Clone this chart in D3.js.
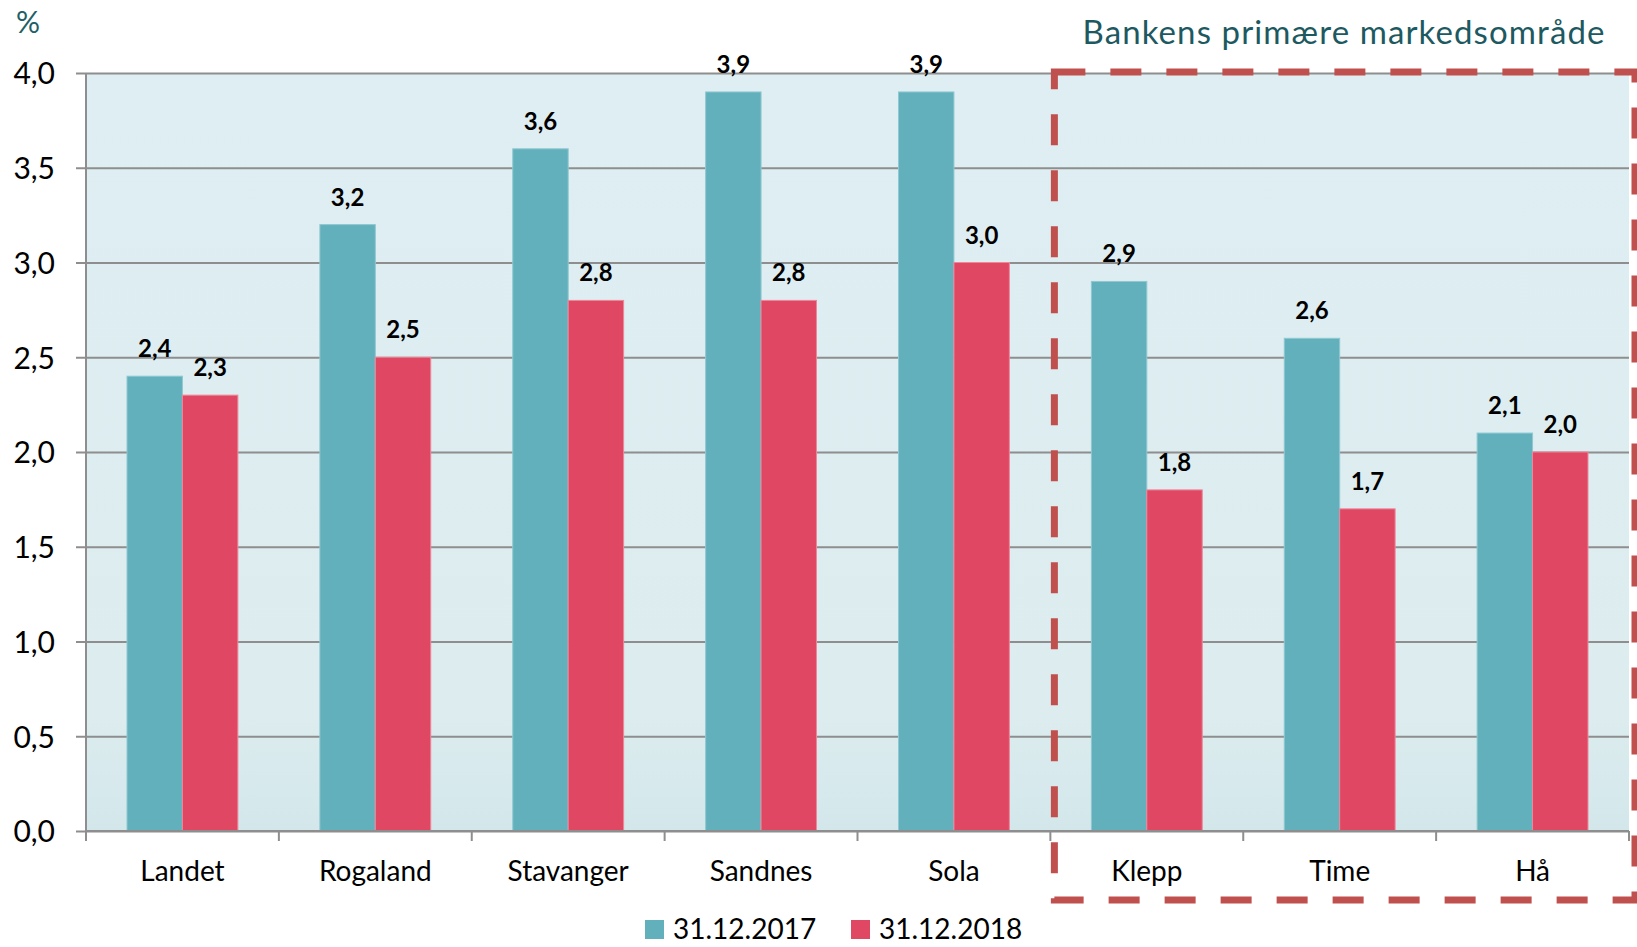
<!DOCTYPE html>
<html><head><meta charset="utf-8">
<script src="https://cdn.jsdelivr.net/npm/d3@7"></script>
<style>html,body{margin:0;padding:0;background:#fff;overflow:hidden}svg{display:block}text{font-family:Lato,"Open Sans",sans-serif}</style>
</head><body>
<svg id="c" width="1637" height="947"></svg>
<script>
const categories = ["Landet","Rogaland","Stavanger","Sandnes","Sola","Klepp","Time","Hå"];
const seriesNames = ["31.12.2017","31.12.2018"];
const values2017 = [2.4,3.2,3.6,3.9,3.9,2.9,2.6,2.1];
const values2018 = [2.3,2.5,2.8,2.8,3.0,1.8,1.7,2.0];
const yTicks = [0,0.5,1,1.5,2,2.5,3,3.5,4];
const highlightCats = ["Klepp","Time","Hå"];
const highlightTitle = "Bankens primære markedsområde";
const unitLabel = "%";

const colors = ["#63B0BD","#E04763"];
const svg = d3.select("#c");
const L = 86, R = 1629, T = 73, B = 831;
const x0 = d3.scaleBand().domain(categories).range([L, R]).padding(0);
const x1 = d3.scaleBand().domain(seriesNames).range([0, x0.bandwidth()]).paddingInner(0).paddingOuter(0.74);
const y = d3.scaleLinear().domain([0,4]).range([B, T]);
const fmt = v => d3.format(".1f")(v).replace(".", ",");

const defs = svg.append("defs");
const g = defs.append("linearGradient").attr("id","bg").attr("x1",0).attr("y1",0).attr("x2",0).attr("y2",1);
g.append("stop").attr("offset","0").attr("stop-color","#DFEEF2");
g.append("stop").attr("offset","0.85").attr("stop-color","#DCECEF");
g.append("stop").attr("offset","1").attr("stop-color","#D3E7EA");
svg.append("rect").attr("x",L).attr("y",T).attr("width",R-L).attr("height",B-T).attr("fill","url(#bg)");

// gridlines + y axis
const yAxis = d3.axisLeft(y).tickValues(yTicks).tickSize(10).tickFormat(fmt).tickPadding(21);
const ya = svg.append("g").attr("transform",`translate(${L},0)`).call(yAxis);
ya.select(".domain").attr("stroke","#8E8E8E").attr("stroke-width",2).attr("d",`M0,${T}V${B}`);
ya.selectAll(".tick line").attr("stroke","#8E8E8E").attr("stroke-width",2).attr("x1",-10).attr("x2",R-L);
ya.selectAll(".tick text").attr("font-size",30).attr("fill","#000").attr("font-family","Lato").attr("dy","0.36em");

const data = categories.map((c,i)=>({cat:c, vals:[values2017[i], values2018[i]]}));
const grp = svg.append("g").selectAll("g").data(data).join("g").attr("transform",d=>`translate(${x0(d.cat)},0)`);
grp.selectAll("rect").data(d=>d.vals.map((v,j)=>({s:seriesNames[j],v,j}))).join("rect")
  .attr("x",d=>x1(d.s)).attr("width",x1.bandwidth()).attr("y",d=>y(d.v)).attr("height",d=>B-y(d.v))
  .attr("fill",d=>colors[d.j]).attr("stroke",d=>d.j?"#EE8799":"#8FC8D1").attr("stroke-width",1);
grp.selectAll("text").data(d=>d.vals.map((v,j)=>({s:seriesNames[j],v,j}))).join("text")
  .attr("x",d=>x1(d.s)+x1.bandwidth()/2).attr("y",d=>y(d.v)-19).attr("text-anchor","middle")
  .attr("font-size",24).attr("font-weight","bold").attr("fill","#000").text(d=>fmt(d.v));

// x axis
const xAxis = d3.axisBottom(x0).tickSize(0).tickPadding(30);
const xa = svg.append("g").attr("transform",`translate(0,${B})`).call(xAxis);
xa.select(".domain").attr("stroke","#8E8E8E").attr("stroke-width",2).attr("d",`M${L},0H${R}`);
xa.selectAll(".tick text").attr("font-size",28).attr("fill","#000").attr("dy","0.71em");
const bounds = categories.map(c=>x0(c)).concat([R]);
xa.selectAll("line.sep").data(bounds).join("line").attr("class","sep")
  .attr("x1",d=>d).attr("x2",d=>d).attr("y1",0).attr("y2",10).attr("stroke","#8E8E8E").attr("stroke-width",2);

// unit
svg.append("text").attr("x",16).attr("y",33).attr("font-size",30).attr("fill","#1F5F66").text(unitLabel);

// highlight box
const hx = x0(highlightCats[0]) + 4;
svg.append("rect").attr("x",hx).attr("y",72).attr("width",1635-hx).attr("height",900-72)
  .attr("fill","none").attr("stroke","#C0504D").attr("stroke-width",7).attr("stroke-dasharray","31,25");
svg.append("text").attr("x",1344).attr("y",44).attr("text-anchor","middle").attr("font-size",33)
  .attr("fill","#1D5961").attr("letter-spacing",1.1).text(highlightTitle);

// legend
const leg = svg.append("g").selectAll("g").data(seriesNames).join("g")
  .attr("transform",(d,i)=>`translate(${645+i*206},920)`);
leg.append("rect").attr("width",19).attr("height",19).attr("fill",(d,i)=>colors[i]);
leg.append("text").attr("x",28).attr("y",19).attr("font-size",28).attr("fill","#000").text(d=>d);
</script>
</body></html>
